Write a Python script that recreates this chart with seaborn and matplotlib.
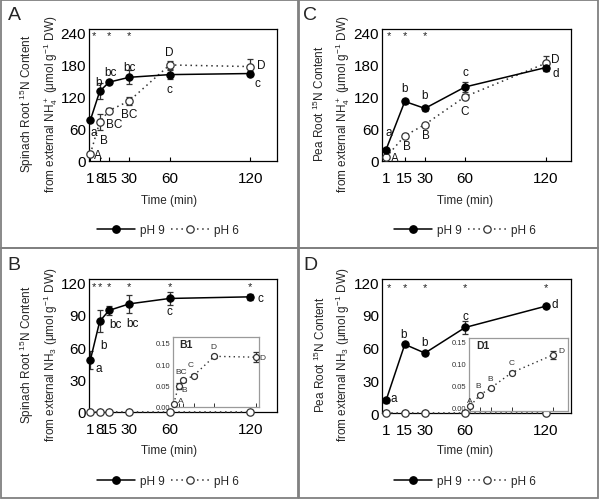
import pandas as pd
import matplotlib
matplotlib.use("Agg")
import matplotlib.pyplot as plt
import seaborn as sns
from matplotlib.lines import Line2D
from matplotlib.patches import Rectangle

# ---- data ----
spinach_time = [1, 8, 15, 30, 60, 120]
pea_time = [1, 15, 30, 60, 120]

# A: spinach, NH4+
a_ph9 = [76, 130, 147, 156, 161, 163]
a_ph9_err = [4, 15, 4, 13, 8, 5]
a_ph6 = [13, 73, 94, 112, 179, 176]
a_ph6_err = [3, 15, 4, 8, 8, 15]
a_ph9_letters = ['a', 'b', 'bc', 'bc', 'c', 'c']
a_ph6_letters = ['A', 'B', 'BC', 'BC', 'D', 'D']
a_stars = [1, 15, 30]

# C: pea, NH4+
c_ph9 = [21, 111, 98, 138, 174]
c_ph9_err = [3, 4, 4, 10, 7]
c_ph6 = [7, 47, 68, 120, 182]
c_ph6_err = [2, 3, 3, 5, 14]
c_ph9_letters = ['a', 'b', 'b', 'c', 'd']
c_ph6_letters = ['A', 'B', 'B', 'C', 'D']
c_stars = [1, 15, 30]

# B: spinach, NH3
b_ph9 = [48, 84, 94, 100, 105, 106.5]
b_ph9_err = [8, 10, 4, 8, 6, 3]
b_ph6 = [0, 0, 0, 0, 0, 0]
b_ph9_letters = ['a', 'b', 'bc', 'bc', 'c', 'c']
b_stars = [1, 8, 15, 30, 60, 120]
# B1 inset: pH 6 zoomed
b1_ph6 = [0.007, 0.049, 0.062, 0.073, 0.118, 0.116]
b1_ph6_err = [0.002, 0.007, 0.003, 0.004, 0.004, 0.011]
b1_letters = ['A', 'B', 'BC', 'C', 'D', 'D']

# D: pea, NH3
d_ph9 = [11.5, 63, 55, 78.5, 98]
d_ph9_err = [2, 2, 2, 6, 2]
d_ph6 = [0, 0, 0, 0, 0]
d_ph9_letters = ['a', 'b', 'b', 'c', 'd']
d_stars = [1, 15, 30, 60, 120]
# D1 inset
d1_ph6 = [0.005, 0.030, 0.045, 0.080, 0.121]
d1_ph6_err = [0.002, 0.002, 0.003, 0.003, 0.009]
d1_letters = ['A', 'B', 'B', 'C', 'D']

sns.set_theme(style="ticks")
plt.rcParams['font.family'] = ['Liberation Sans', 'DejaVu Sans']
plt.rcParams['mathtext.fontset'] = 'custom'
plt.rcParams['mathtext.rm'] = 'Liberation Sans'
plt.rcParams['mathtext.it'] = 'Liberation Sans:italic'

W, H = 600, 502
fig = plt.figure(figsize=(6.0, 5.02), dpi=100)

DOT = (0, (1, 2.4))


def px_axes(l, t, r, b):
    return fig.add_axes([l / W, 1 - b / H, (r - l) / W, (b - t) / H])


def series(ax, t, y, err, filled, ms=5.3, lw=1.1):
    df = pd.DataFrame({'t': t, 'y': y})
    if filled:
        sns.lineplot(data=df, x='t', y='y', ax=ax, color='black', lw=lw,
                     marker='o', markersize=ms, markerfacecolor='black',
                     markeredgecolor='black', zorder=4, clip_on=False)
    else:
        sns.lineplot(data=df, x='t', y='y', ax=ax, color='#333333', lw=lw,
                     linestyle=DOT, marker='o', markersize=ms,
                     markerfacecolor='white', markeredgecolor='#333333',
                     markeredgewidth=0.9, zorder=3, clip_on=False)
    if err is not None:
        ax.errorbar(t, y, yerr=err, fmt='none', ecolor='#333333',
                    elinewidth=0.9, capsize=2.3, capthick=0.9, zorder=2)


def letters(ax, t, y, labs, offs, fs=8.5, color='#111111'):
    for xi, yi, lab, (dx, dy) in zip(t, y, labs, offs):
        ax.annotate(lab, (xi, yi), xytext=(dx, dy), textcoords='offset pixels',
                    ha='center', va='center', fontsize=fs, color=color,
                    zorder=6, annotation_clip=False)


def stars(ax, t, ystar):
    for xi in t:
        ax.text(max(xi, 3.5), ystar, '*', ha='center', va='center',
                fontsize=8, color='#222222')


def base_axes(ax, xticks, xlim, ylim, yticks, ylab1, ylab2, ylab_xy, xlab_xy, leg_xy):
    ax.set_xlim(*xlim)
    ax.set_ylim(*ylim)
    ax.set_xticks(xticks)
    ax.set_xticklabels([str(v) for v in xticks])
    ax.set_yticks(yticks)
    ax.tick_params(axis='x', direction='in', length=3, width=0.8,
                   labelsize=11, pad=7, colors='black')
    ax.tick_params(axis='y', direction='in', length=0, labelsize=11, pad=2,
                   colors='black')
    for s in ax.spines.values():
        s.set_visible(True)
        s.set_color('black')
        s.set_linewidth(0.9)
    ax.set_xlabel('')
    ax.set_ylabel('')
    fig.text(ylab_xy[0] / W, 1 - ylab_xy[1] / H, ylab1 + '\n' + ylab2,
             rotation=90, ha='center', va='center', multialignment='center',
             fontsize=8.5, linespacing=1.45)
    fig.text(xlab_xy[0] / W, 1 - xlab_xy[1] / H, 'Time (min)',
             ha='center', va='center', fontsize=8.5)
    handles = [Line2D([0], [0], color='black', lw=1.1, marker='o', ms=5.3,
                      mfc='black', mec='black'),
               Line2D([0], [0], color='#333333', lw=1.1, ls=DOT,
                      marker='o', ms=5.3, mfc='white', mec='#333333', mew=0.9)]
    fig.legend(handles, ['pH 9', 'pH 6'], loc='center',
               bbox_to_anchor=(leg_xy[0] / W, 1 - leg_xy[1] / H), ncol=2,
               frameon=False, fontsize=8.5, handlelength=3.2,
               columnspacing=0.6, handletextpad=0.4)


def inset(ax, t, y, err, xlim, ylim, labs, offs, tag):
    ax.set_facecolor('white')
    series(ax, t, y, err, filled=False, ms=4.3, lw=1.0)
    ax.set_xlim(*xlim)
    ax.set_ylim(*ylim)
    ax.set_xticks(t)
    ax.set_xticklabels([])
    ax.set_yticks([0, 0.05, 0.10, 0.15])
    ax.set_yticklabels(['0.00', '0.05', '0.10', '0.15'])
    ax.tick_params(axis='x', direction='in', length=3, width=0.7, colors='#333333')
    ax.tick_params(axis='y', direction='in', length=0, labelsize=5.5, pad=2,
                   colors='#333333')
    ax.set_xlabel('')
    ax.set_ylabel('')
    for s in ax.spines.values():
        s.set_visible(True)
        s.set_color('#9a9a9a')
        s.set_linewidth(0.9)
    letters(ax, t, y, labs, offs, fs=6, color='#333333')
    ax.text(0.07, 0.9, tag, transform=ax.transAxes, fontsize=7.5,
            fontweight='bold', ha='left', va='center')


# ---- panel frames ----
for l, t, r, b in [(1, 1, 298, 249), (299, 1, 598, 249),
                   (1, 249, 298, 499), (299, 249, 598, 499)]:
    fig.patches.append(Rectangle((l / W, 1 - b / H), (r - l) / W, (b - t) / H,
                                 transform=fig.transFigure, fill=False,
                                 edgecolor='#808080', lw=1.3))
for lab, x, y in [('A', 14, 16), ('C', 310, 16), ('B', 14, 266), ('D', 310, 266)]:
    fig.text(x / W, 1 - y / H, lab, fontsize=14, ha='center', va='center')

# ---- A ----
axA = px_axes(89, 30, 277, 162)
series(axA, spinach_time, a_ph6, a_ph6_err, filled=False)
series(axA, spinach_time, a_ph9, a_ph9_err, filled=True)
base_axes(axA, spinach_time, (0, 140), (0, 246), [0, 60, 120, 180, 240],
          'Spinach Root $^{15}$N Content',
          'from external NH$_4^+$ (μmol g$^{-1}$ DW)',
          (39, 104), (169, 201), (168, 231))
letters(axA, spinach_time, a_ph9, a_ph9_letters,
        [(3, -12), (-1, 9), (1, 10), (0, 10), (0, -14), (7, -9)])
letters(axA, spinach_time, a_ph6, a_ph6_letters,
        [(8, -1), (4, -18), (5, -13), (0, -13), (0, 13), (11, 2)])
stars(axA, a_stars, 235)

# ---- C ----
axC = px_axes(382, 30, 571, 162)
series(axC, pea_time, c_ph6, c_ph6_err, filled=False)
series(axC, pea_time, c_ph9, c_ph9_err, filled=True)
base_axes(axC, pea_time, (-2, 139), (0, 246), [0, 60, 120, 180, 240],
          'Pea Root $^{15}$N Content',
          'from external NH$_4^+$ (μmol g$^{-1}$ DW)',
          (332, 104), (465, 201), (465, 231))
letters(axC, pea_time, c_ph9, c_ph9_letters,
        [(3, 18), (0, 13), (0, 13), (0, 15), (10, -5)])
letters(axC, pea_time, c_ph6, c_ph6_letters,
        [(9, -1), (2, -10), (1, -10), (0, -14), (10, 4)])
stars(axC, c_stars, 235)

# ---- B ----
axB = px_axes(89, 280, 277, 413)
series(axB, spinach_time, b_ph6, None, filled=False)
series(axB, spinach_time, b_ph9, b_ph9_err, filled=True)
base_axes(axB, spinach_time, (0, 140), (0, 123), [0, 30, 60, 90, 120],
          'Spinach Root $^{15}$N Content',
          'from external NH$_3$ (μmol g$^{-1}$ DW)',
          (39, 355), (169, 451), (168, 482))
letters(axB, spinach_time, b_ph9, b_ph9_letters,
        [(8, -8), (4, -24), (6, -14), (3, -19), (0, -13), (10, -1)])
stars(axB, b_stars, 116)
axB1 = px_axes(173, 338, 259, 408)
inset(axB1, spinach_time, b1_ph6, b1_ph6_err, (0, 125), (0, 0.163), b1_letters,
      [(7, 3), (6, -4), (-2, 9), (-3, 11), (-1, 10), (7, 0)], 'B1')

# ---- D ----
axD = px_axes(382, 280, 571, 414)
series(axD, pea_time, d_ph6, None, filled=False)
series(axD, pea_time, d_ph9, d_ph9_err, filled=True)
base_axes(axD, pea_time, (-2, 139), (0, 123), [0, 30, 60, 90, 120],
          'Pea Root $^{15}$N Content',
          'from external NH$_3$ (μmol g$^{-1}$ DW)',
          (332, 355), (465, 451), (465, 482))
letters(axD, pea_time, d_ph9, d_ph9_letters,
        [(8, 2), (-1, 10), (0, 11), (0, 11), (9, 2)])
stars(axD, d_stars, 116)
axD1 = px_axes(469, 339, 568, 412)
inset(axD1, pea_time, d1_ph6, d1_ph6_err, (-1, 141), (-0.007, 0.159), d1_letters,
      [(-1, 5), (-2, 9), (0, 10), (0, 10), (8, 4)], 'D1')

fig.savefig('out.png', dpi=100)
